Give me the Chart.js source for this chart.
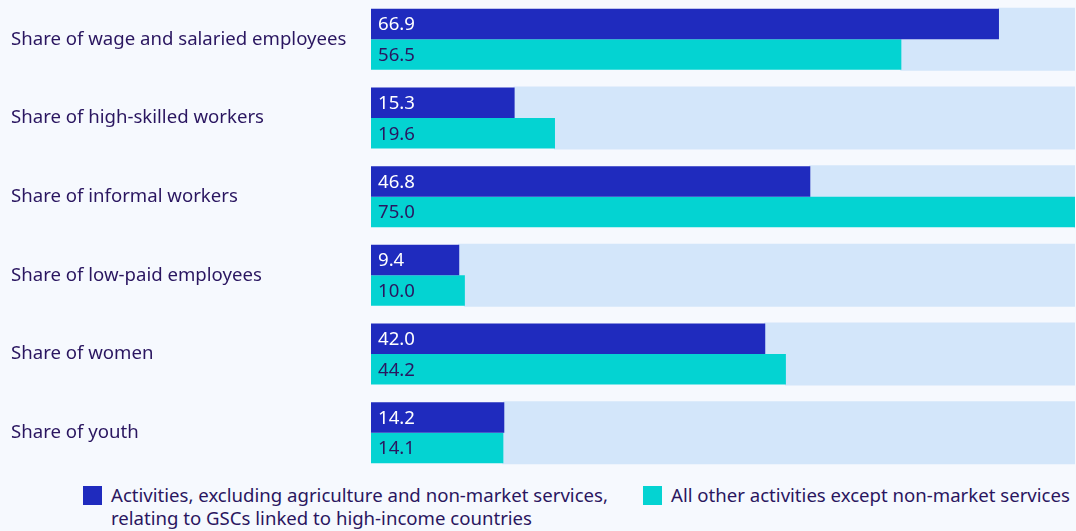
<!DOCTYPE html>
<html>
<head>
<meta charset="utf-8">
<script src="https://cdn.jsdelivr.net/npm/chart.js@4/dist/chart.umd.min.js"></script>
<style>
  html, body { margin: 0; padding: 0; background: #f6f9fe; }
  body { width: 1076px; height: 531px; overflow: hidden; font-family: "Noto Sans", sans-serif; color: #2a1660; }
  #wrap { position: relative; width: 1076px; height: 472px; }
  .legend { position: relative; height: 59px; font-size: 18.6px; line-height: 23px; }
  .item { position: absolute; top: 12px; }
  .item .box { position: absolute; left: 0; top: 2px; width: 19px; height: 19px; }
  .item .txt { position: absolute; left: 28px; top: -1px; white-space: nowrap; }
</style>
</head>
<body>
<div id="wrap"><canvas id="chart" width="1076" height="472"></canvas></div>
<div class="legend">
  <div class="item" style="left:83px"><div class="box" style="background:#1f2bbe"></div><div class="txt" id="leg0"></div></div>
  <div class="item" style="left:643px"><div class="box" style="background:#04d3d2"></div><div class="txt" id="leg1"></div></div>
</div>
<script>
// Data
const categories = [
  'Share of wage and salaried employees',
  'Share of high-skilled workers',
  'Share of informal workers',
  'Share of low-paid employees',
  'Share of women',
  'Share of youth'
];
const gscHighIncome = [66.9, 15.3, 46.8, 9.4, 42.0, 14.2];
const otherActivities = [56.5, 19.6, 75.0, 10.0, 44.2, 14.1];
const seriesNames = [
  ['Activities, excluding agriculture and non-market services,', 'relating to GSCs linked to high-income countries'],
  ['All other activities except non-market services']
];
const axisMax = 75;

const textColor = '#2a1660';
const darkBlue = '#1f2bbe';
const cyan = '#04d3d2';
const trackColor = '#d3e6fa';
const fontSize = 18.6;

// light blue track = rest of the bar up to the axis max
function rest(arr) {
  return arr.map(function (v) { return axisMax - v; });
}

// legend (html so the first label can wrap)
document.getElementById('leg0').innerHTML = seriesNames[0].join('<br>');
document.getElementById('leg1').innerHTML = seriesNames[1].join('<br>');

// category labels on the left + value labels at bar start
const textPlugin = {
  id: 'textPlugin',
  afterDatasetsDraw: function (chart) {
    const ctx = chart.ctx;
    const yScale = chart.scales.y;
    ctx.save();
    ctx.font = fontSize + 'px "Noto Sans"';
    ctx.textBaseline = 'middle';
    ctx.textAlign = 'left';

    ctx.fillStyle = textColor;
    categories.forEach(function (c, i) {
      ctx.fillText(c, 11, yScale.getPixelForValue(i));
    });

    [0, 2].forEach(function (di) {
      const meta = chart.getDatasetMeta(di);
      meta.data.forEach(function (bar, i) {
        const v = chart.data.datasets[di].data[i];
        ctx.fillStyle = di === 0 ? '#ffffff' : textColor;
        ctx.fillText(v.toFixed(1), bar.base + 7, bar.y + 1);
      });
    });
    ctx.restore();
  }
};

const ctx = document.getElementById('chart');

let chart = new Chart(ctx, {
  type: 'bar',
  data: {
    labels: categories,
    datasets: [
      { label: seriesNames[0].join(' '), data: gscHighIncome, backgroundColor: darkBlue, stack: 'a', order: 0 },
      { label: 'track a', data: rest(gscHighIncome), backgroundColor: trackColor, stack: 'a', order: 1, inflateAmount: 1 },
      { label: seriesNames[1].join(' '), data: otherActivities, backgroundColor: cyan, stack: 'b', order: 0 },
      { label: 'track b', data: rest(otherActivities), backgroundColor: trackColor, stack: 'b', order: 1, inflateAmount: 1 }
    ]
  },
  options: {
    indexAxis: 'y',
    responsive: false,
    animation: false,
    layout: { padding: { left: 371, right: 1, top: 0, bottom: 0 } },
    datasets: {
      bar: { categoryPercentage: 0.776, barPercentage: 1, borderWidth: 0 }
    },
    plugins: {
      legend: { display: false },
      tooltip: { enabled: false }
    },
    scales: {
      x: { min: 0, max: axisMax, stacked: true, display: false },
      y: { stacked: true, display: false }
    }
  },
  plugins: [textPlugin]
});
</script>
</body>
</html>
